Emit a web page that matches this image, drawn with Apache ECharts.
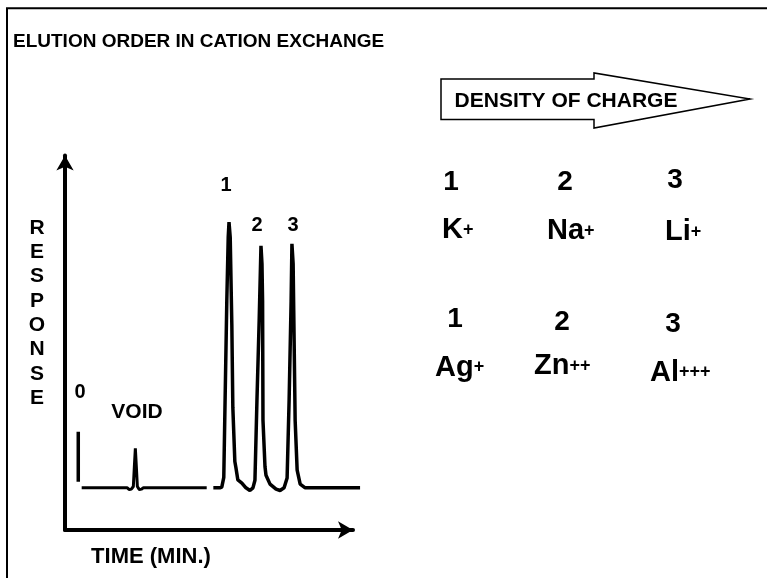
<!DOCTYPE html>
<html>
<head>
<meta charset="utf-8">
<script src="https://cdn.jsdelivr.net/npm/echarts@6/dist/echarts.min.js"></script>
<style>
  html, body { margin: 0; padding: 0; background: #ffffff; }
  #main { width: 767px; height: 578px; }
</style>
</head>
<body>
<div id="main"></div>
<script>
// ---------------- DATA ----------------
var titleText = 'ELUTION ORDER IN CATION EXCHANGE';
var yAxisTitle = 'RESPONSE';
var xAxisTitle = 'TIME (MIN.)';
var arrowLabel = 'DENSITY OF CHARGE';
var peakNames = ['1', '2', '3'];
var orderNumbers = ['1', '2', '3'];
var ionsRow1 = ['K', 'Na', 'Li'];
var chargesRow1 = ['+', '+', '+'];
var ionsRow2 = ['Ag', 'Zn', 'Al'];
var chargesRow2 = ['+', '++', '+++'];

// chromatogram trace: [time (min), response]
// segment before the break (injection baseline + void peak)
var traceSegment1 = [
  [0.83, 0], [3.1, 0], [3.2, -0.7], [3.3, -0.5], [3.4, 0.5], [3.45, 8],
  [3.5, 15], [3.55, 8], [3.6, 0.5], [3.7, -0.7], [3.8, -0.5], [3.9, 0], [7.05, 0]
];
// segment after the break (peaks 1, 2, 3)
var traceSegment2 = [
  [7.38, 0], [7.7, 0], [7.8, 0.3], [7.9, 4], [7.95, 26.7], [8.05, 71],
  [8.12, 95], [8.16, 100.8], [8.22, 95], [8.28, 70], [8.3, 62], [8.35, 30.5],
  [8.45, 10], [8.5, 7.8], [8.6, 3], [8.8, 1.8], [9.0, 0], [9.2, -1], [9.35, 0],
  [9.45, 2.9], [9.55, 33.2], [9.66, 63.4], [9.75, 91.8], [9.8, 85], [9.83, 71],
  [9.85, 25.6], [9.95, 8], [10.0, 4.8], [10.2, 1.4], [10.5, -0.5], [10.7, -1],
  [10.9, 0], [11.05, 3.7], [11.15, 33.2], [11.25, 71], [11.29, 92.6], [11.35, 85],
  [11.38, 67.2], [11.45, 25.6], [11.55, 6.7], [11.7, 1.4], [11.95, 0], [14.68, 0]
];
// injection marker
var injectionMarker = [[0.66, 2.3], [0.66, 21.3]];

// ---------------- CHART ----------------
var FONT = '"Liberation Sans", Arial, Helvetica, sans-serif';
var chart = echarts.init(document.getElementById('main'), null, { renderer: 'canvas' });

function txt(text, x, y, size, align, extra) {
  var o = {
    type: 'text',
    x: x, y: y,
    silent: true,
    style: {
      text: text,
      fill: '#000',
      font: 'bold ' + size + 'px ' + FONT,
      textAlign: align || 'center',
      textVerticalAlign: 'middle'
    }
  };
  if (extra) { for (var k in extra) o.style[k] = extra[k]; }
  return o;
}

function ion(base, charge, x, y) {
  return {
    type: 'text',
    x: x, y: y,
    silent: true,
    style: {
      text: '{b|' + base + '}{s|' + charge + '}',
      textAlign: 'left',
      textVerticalAlign: 'middle',
      rich: {
        b: { fontSize: 29, fontWeight: 'bold', fontFamily: FONT, fill: '#000', lineHeight: 29 },
        s: { fontSize: 18, fontWeight: 'bold', fontFamily: FONT, fill: '#000', lineHeight: 18 }
      }
    }
  };
}

var graphics = [
  // outer frame
  {
    type: 'rect', silent: true,
    shape: { x: 7, y: 8.3, width: 900, height: 700 },
    style: { fill: 'none', stroke: '#000', lineWidth: 2 }
  },
  txt(titleText, 13, 41.5, 19, 'left'),
  // big arrow
  {
    type: 'polygon', silent: true,
    shape: { points: [[441, 79], [594, 79], [594, 73], [750, 99], [594, 128], [594, 119.5], [441, 119.5]] },
    style: { fill: '#fff', stroke: '#000', lineWidth: 1.5 }
  },
  txt(arrowLabel, 566, 101, 21, 'center'),
  // vertical axis title
  txt(yAxisTitle.split('').join('\n'), 37, 313, 21, 'center', { lineHeight: 24.3 }),
  txt(xAxisTitle, 151, 556.5, 22, 'center'),
  txt('0', 80, 392, 20, 'center'),
  txt('VOID', 137, 412, 21, 'center'),
  // peak labels
  txt(peakNames[0], 226, 185, 20, 'center'),
  txt(peakNames[1], 257, 225, 20, 'center'),
  txt(peakNames[2], 293, 225, 20, 'center'),
  // order numbers row 1
  txt(orderNumbers[0], 451, 182, 28, 'center'),
  txt(orderNumbers[1], 565, 182, 28, 'center'),
  txt(orderNumbers[2], 675, 180, 28, 'center'),
  // ions row 1
  ion(ionsRow1[0], chargesRow1[0], 442, 230),
  ion(ionsRow1[1], chargesRow1[1], 547, 231),
  ion(ionsRow1[2], chargesRow1[2], 665, 232),
  // order numbers row 2
  txt(orderNumbers[0], 455, 319, 28, 'center'),
  txt(orderNumbers[1], 562, 322, 28, 'center'),
  txt(orderNumbers[2], 673, 324, 28, 'center'),
  // ions row 2
  ion(ionsRow2[0], chargesRow2[0], 435, 367.5),
  ion(ionsRow2[1], chargesRow2[1], 534, 366),
  ion(ionsRow2[2], chargesRow2[2], 650, 372.5)
];

var hiddenAxisParts = {
  axisTick: { show: false }, axisLabel: { show: false }, splitLine: { show: false }
};
function axisWithArrow(extra) {
  var o = {
    type: 'value',
    axisLine: {
      show: true, onZero: false,
      symbol: ['none', 'arrow'], symbolSize: [13, 15],
      lineStyle: { color: '#000', width: 4 }
    },
    axisTick: { show: false }, axisLabel: { show: false }, splitLine: { show: false }
  };
  for (var k in extra) o[k] = extra[k];
  return o;
}
function plainAxis(extra) {
  var o = { type: 'value', axisLine: { show: false } };
  for (var k in hiddenAxisParts) o[k] = hiddenAxisParts[k];
  for (var k2 in extra) o[k2] = extra[k2];
  return o;
}

var option = {
  animation: false,
  backgroundColor: '#fff',
  grid: [
    // data grid (scale of the trace)
    { left: 65, right: 400.5, top: 161, bottom: 48, containLabel: false },
    // axes grid (arrowed axis lines)
    { left: 65, right: 414, top: 155.5, bottom: 48, containLabel: false }
  ],
  xAxis: [
    plainAxis({ gridIndex: 0, min: 0, max: 15 }),
    axisWithArrow({ gridIndex: 1, min: 0, max: 14 })
  ],
  yAxis: [
    plainAxis({ gridIndex: 0, min: -16, max: 124 }),
    axisWithArrow({ gridIndex: 1, min: 0, max: 14 })
  ],
  series: [
    { type: 'line', xAxisIndex: 0, yAxisIndex: 0, data: traceSegment1, showSymbol: false, symbol: 'none',
      lineStyle: { color: '#000', width: 3 }, silent: true, z: 3 },
    { type: 'line', xAxisIndex: 0, yAxisIndex: 0, data: traceSegment2, showSymbol: false, symbol: 'none',
      lineStyle: { color: '#000', width: 3.5 }, silent: true, z: 3 },
    { type: 'line', xAxisIndex: 0, yAxisIndex: 0, data: injectionMarker, showSymbol: false, symbol: 'none',
      lineStyle: { color: '#000', width: 3.5 }, silent: true, z: 3 }
  ],
  graphic: graphics
};
chart.setOption(option);
</script>
</body>
</html>
